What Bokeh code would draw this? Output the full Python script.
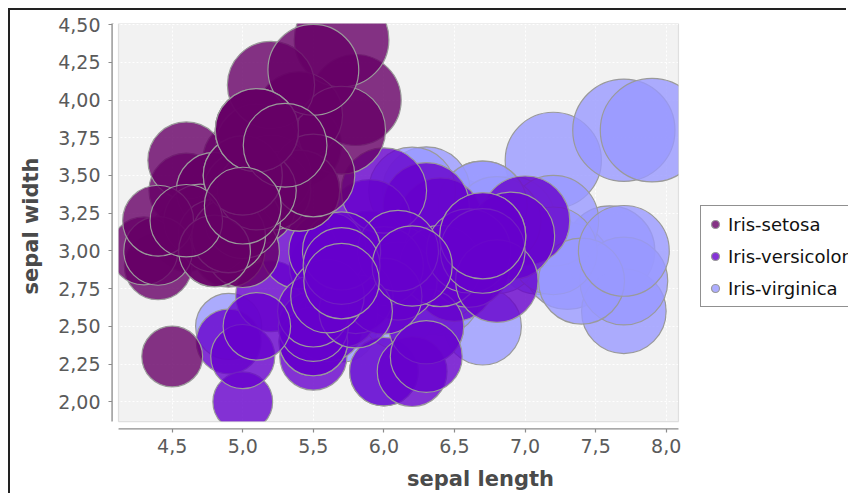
import numpy as np
from bokeh.plotting import figure
from bokeh.models import Range1d, FixedTicker, BoxAnnotation, Legend, LegendItem, ColumnDataSource
from bokeh.embed import file_html
from bokeh.resources import INLINE

# ---------------- data (Iris: sepal length / sepal width per class) ----------------
species = ["Iris-setosa", "Iris-versicolor", "Iris-virginica"]

setosa_sepal_length = [5.1, 4.9, 4.7, 4.6, 5.0, 5.4, 4.6, 5.0, 4.4, 4.9, 5.4, 4.8, 4.8, 4.3, 5.8, 5.7, 5.4,
                       5.1, 5.7, 5.1, 5.4, 5.1, 4.6, 5.1, 4.8, 5.0, 5.0, 5.2, 5.2, 4.7, 4.8, 5.4, 5.2, 5.5,
                       4.9, 5.0, 5.5, 4.9, 4.4, 5.1, 5.0, 4.5, 4.4, 5.0, 5.1, 4.8, 5.1, 4.6, 5.3, 5.0]
setosa_sepal_width = [3.5, 3.0, 3.2, 3.1, 3.6, 3.9, 3.4, 3.4, 2.9, 3.1, 3.7, 3.4, 3.0, 3.0, 4.0, 4.4, 3.9,
                      3.5, 3.8, 3.8, 3.4, 3.7, 3.6, 3.3, 3.4, 3.0, 3.4, 3.5, 3.4, 3.2, 3.1, 3.4, 4.1, 4.2,
                      3.1, 3.2, 3.5, 3.1, 3.0, 3.4, 3.5, 2.3, 3.2, 3.5, 3.8, 3.0, 3.8, 3.2, 3.7, 3.3]

versicolor_sepal_length = [7.0, 6.4, 6.9, 5.5, 6.5, 5.7, 6.3, 4.9, 6.6, 5.2, 5.0, 5.9, 6.0, 6.1, 5.6, 6.7,
                           5.6, 5.8, 6.2, 5.6, 5.9, 6.1, 6.3, 6.1, 6.4, 6.6, 6.8, 6.7, 6.0, 5.7, 5.5, 5.5,
                           5.8, 6.0, 5.4, 6.0, 6.7, 6.3, 5.6, 5.5, 5.5, 6.1, 5.8, 5.0, 5.6, 5.7, 5.7, 6.2,
                           5.1, 5.7]
versicolor_sepal_width = [3.2, 3.2, 3.1, 2.3, 2.8, 2.8, 3.3, 2.4, 2.9, 2.7, 2.0, 3.0, 2.2, 2.9, 2.9, 3.1,
                          3.0, 2.7, 2.2, 2.5, 3.2, 2.8, 2.5, 2.8, 2.9, 3.0, 2.8, 3.0, 2.9, 2.6, 2.4, 2.4,
                          2.7, 2.7, 3.0, 3.4, 3.1, 2.3, 3.0, 2.5, 2.6, 3.0, 2.6, 2.3, 2.7, 3.0, 2.9, 2.9,
                          2.5, 2.8]

virginica_sepal_length = [6.3, 5.8, 7.1, 6.3, 6.5, 7.6, 4.9, 7.3, 6.7, 7.2, 6.5, 6.4, 6.8, 5.7, 5.8, 6.4,
                          6.5, 7.7, 7.7, 6.0, 6.9, 5.6, 7.7, 6.3, 6.7, 7.2, 6.2, 6.1, 6.4, 7.2, 7.4, 7.9,
                          6.4, 6.3, 6.1, 7.7, 6.3, 6.4, 6.0, 6.9, 6.7, 6.9, 5.8, 6.8, 6.7, 6.7, 6.3, 6.5,
                          6.2, 5.9]
virginica_sepal_width = [3.3, 2.7, 3.0, 2.9, 3.0, 3.0, 2.5, 2.9, 2.5, 3.6, 3.2, 2.7, 3.0, 2.5, 2.8, 3.2,
                         3.0, 3.8, 2.6, 2.2, 3.2, 2.8, 2.8, 2.7, 3.3, 3.2, 2.8, 3.0, 2.8, 3.0, 2.8, 3.8,
                         2.8, 2.8, 2.6, 3.0, 3.4, 3.1, 3.0, 3.1, 3.1, 3.1, 2.7, 3.2, 3.3, 3.0, 2.5, 3.0,
                         3.4, 3.0]

x_ticks = [4.5, 5.0, 5.5, 6.0, 6.5, 7.0, 7.5, 8.0]
x_tick_labels = ["4,5", "5,0", "5,5", "6,0", "6,5", "7,0", "7,5", "8,0"]
y_ticks = [2.0, 2.25, 2.5, 2.75, 3.0, 3.25, 3.5, 3.75, 4.0, 4.25, 4.5]
y_tick_labels = ["2,00", "2,25", "2,50", "2,75", "3,00", "3,25", "3,50", "3,75", "4,00", "4,25", "4,50"]

x_title = "sepal length"
y_title = "sepal width"

# ---------------- styling ----------------
colors = {"Iris-setosa": "#660066", "Iris-versicolor": "#6600CC", "Iris-virginica": "#9999FF"}
BUBBLE_PX = 18.9          # bubble diameter (px) per sqrt(sepal length * sepal width)
FONT = "DejaVu Sans"

W, H = 838, 485
ML, MR, MT, MB = 102, 0, 13, 67
FRAME_W = W - ML - MR
FRAME_H = H - MT - MB
PX_PER_X = 141.14        # horizontal scale (px per cm)

# data window of the plotting frame (frame includes the offset-axis gaps and the legend zone)
X_START = 4.077
X_END = X_START + FRAME_W / PX_PER_X
Y_START, Y_END = 1.823, 4.507
AREA_LEFT, AREA_RIGHT, AREA_BOTTOM = 4.1195, 8.087, 1.869   # inner grey plot area

p = figure(width=W, height=H, output_backend="svg", toolbar_location=None,
           x_range=Range1d(X_START, X_END), y_range=Range1d(Y_START, Y_END),
           min_border_left=ML, min_border_right=MR, min_border_top=MT, min_border_bottom=MB)
p.margin = (8, 0, 0, 8)
p.styles = {"border-top": "2px solid #222222", "border-left": "2px solid #222222"}
p.outline_line_color = None
p.background_fill_color = "white"
p.border_fill_color = "white"

# grey plot area
p.add_layout(BoxAnnotation(left=AREA_LEFT, right=AREA_RIGHT, bottom=AREA_BOTTOM, top=Y_END,
                           fill_color="#F2F2F2", fill_alpha=1.0, line_color=None, level="image"))

# faint grid
for g in (p.xgrid, p.ygrid):
    g.grid_line_color = "white"
    g.grid_line_dash = "2 2"
    g.grid_line_width = 1
p.xgrid.ticker = FixedTicker(ticks=x_ticks)
p.ygrid.ticker = FixedTicker(ticks=y_ticks)

# bubbles (drawn in reverse series order, so setosa ends on top)
series = [
    ("Iris-virginica", virginica_sepal_length, virginica_sepal_width),
    ("Iris-versicolor", versicolor_sepal_length, versicolor_sepal_width),
    ("Iris-setosa", setosa_sepal_length, setosa_sepal_width),
]
renderers = {}
for name, xs, ys in series:
    xs_a = np.array(xs)
    ys_a = np.array(ys)
    src = ColumnDataSource(dict(x=xs_a, y=ys_a, s=BUBBLE_PX * np.sqrt(xs_a * ys_a)))
    r = p.scatter("x", "y", size="s", source=src, marker="circle",
                  fill_color=colors[name], fill_alpha=0.8,
                  line_color="#9A9A9A", line_width=1.2, line_alpha=1.0)
    renderers[name] = r

# white margins around the plot area, reaching the frame edges (hide bubble overflow)
p.add_layout(BoxAnnotation(right=AREA_LEFT, fill_color="white",
                           fill_alpha=1.0, line_color=None, level="annotation"))
p.add_layout(BoxAnnotation(top=AREA_BOTTOM, fill_color="white",
                           fill_alpha=1.0, line_color=None, level="annotation"))
p.add_layout(BoxAnnotation(left=AREA_RIGHT, fill_color="white",
                           fill_alpha=1.0, line_color=None, level="annotation"))
# plot area outline on top
p.add_layout(BoxAnnotation(left=AREA_LEFT, right=AREA_RIGHT, bottom=AREA_BOTTOM, top=Y_END,
                           fill_color=None, fill_alpha=0.0, line_color="#9A9A9A", line_width=1.2,
                           level="overlay"))

# axes (line sits on the frame edge; its inner half is hidden by the white margins)
p.xaxis.ticker = FixedTicker(ticks=x_ticks)
p.yaxis.ticker = FixedTicker(ticks=y_ticks)
p.xaxis.major_label_overrides = {t: l for t, l in zip(x_ticks, x_tick_labels)}
p.yaxis.major_label_overrides = {t: l for t, l in zip(y_ticks, y_tick_labels)}
p.xaxis.bounds = (AREA_LEFT, AREA_RIGHT)
p.yaxis.bounds = (AREA_BOTTOM, Y_END)
for ax in (p.xaxis, p.yaxis):
    ax.axis_line_color = "#8C8C8C"
    ax.axis_line_width = 2.2
    ax.major_tick_line_color = "#8C8C8C"
    ax.major_tick_line_width = 1.2
    ax.major_tick_in = 0
    ax.major_tick_out = 4
    ax.minor_tick_line_color = None
    ax.major_label_text_font = FONT
    ax.major_label_text_font_size = "19px"
    ax.major_label_text_color = "#5A5A5A"
    ax.axis_label_text_font = FONT
    ax.axis_label_text_font_style = "bold"
    ax.axis_label_text_font_size = "21px"
    ax.axis_label_text_color = "#4A4A4A"
    for a in ax:
        if "background_fill_color" in a.properties():
            a.background_fill_color = "white"
            a.background_fill_alpha = 1.0
p.xaxis.axis_label = x_title
p.yaxis.axis_label = y_title
p.xaxis.major_label_standoff = 6
p.yaxis.major_label_standoff = 8
p.xaxis.axis_label_standoff = 11
p.yaxis.axis_label_standoff = 12

# legend (inside the frame's right zone; its box runs off the canvas edge like the original)
legend = Legend(items=[LegendItem(label=n, renderers=[renderers[n]]) for n in species],
                location=(588, 121), orientation="vertical",
                label_text_font=FONT, label_text_font_size="18px", label_text_color="#111111",
                label_height=28, glyph_height=28, glyph_width=20, label_standoff=3,
                spacing=4, padding=4, margin=0,
                border_line_color="#222222", border_line_width=1.6,
                background_fill_color="white", background_fill_alpha=1.0)
p.add_layout(legend, "center")

open("out.html", "w").write(file_html(p, INLINE))
